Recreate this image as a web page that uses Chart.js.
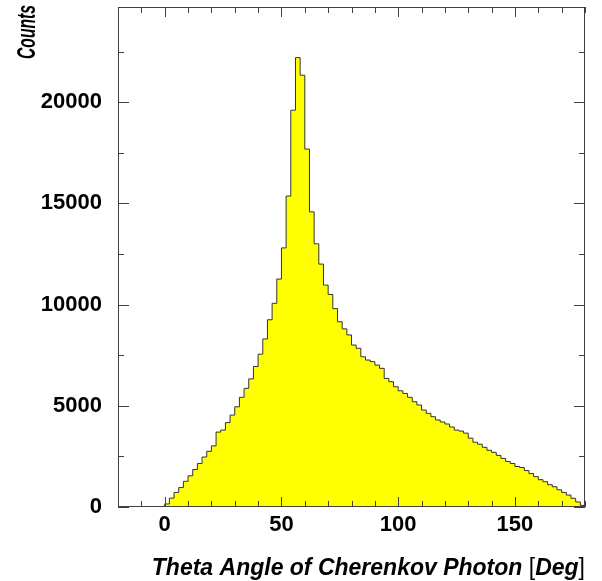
<!DOCTYPE html>
<html>
<head>
<meta charset="utf-8">
<script src="https://cdn.jsdelivr.net/npm/chart.js@4.4.1/dist/chart.umd.min.js"></script>
<style>
    body { margin: 0; background: #fff; }
    canvas { display: block; }
</style>
</head>
<body>
<canvas id="thetaHist" width="602" height="581"></canvas>
<script>
// histogram binning: 100 bins of 2 deg between -20 and 180
const xRange = [-20, 180];
const binWidth = 2;
const yMax = 24700;
const xTicks = [0, 50, 100, 150];
const yTicks = [0, 5000, 10000, 15000, 20000];

// counts per bin, starting at -20 deg
const counts = [
    0, 0, 0, 0, 0, 0, 0, 0, 0, 0,
    150, 440, 720, 960, 1270, 1540, 1850, 2150, 2470, 2750,
    3020, 3700, 3800, 4170, 4540, 4950, 5420, 5860, 6330, 6940,
    7550, 8300, 9250, 10060, 11260, 12800, 15360, 19600, 22200, 21330,
    17680, 14580, 13000, 12000, 10960, 10500, 9800, 9150, 8800, 8500,
    8000, 7840, 7420, 7260, 7180, 7010, 6850, 6350, 6190, 5940,
    5740, 5610, 5420, 5200, 5040, 4790, 4630, 4460, 4300, 4200,
    4100, 3950, 3800, 3750, 3650, 3400, 3200, 3100, 2950, 2800,
    2700, 2550, 2400, 2250, 2150, 2000, 1950, 1800, 1650, 1500,
    1350, 1250, 1100, 1000, 850, 720, 590, 430, 250, 80
];

// one point on the left edge of every bin, plus the closing edge
var points = counts.map(function (c, i) {
    return { x: xRange[0] + i * binWidth, y: c };
});
points.push({ x: xRange[1], y: 0 });

const family = "'Liberation Sans', Arial, sans-serif";
const labelFont = { family: family, size: 22, weight: 'bold' };

// box frame with inward major/minor ticks on all four sides, plus axis titles
const frameTicks = {
    id: 'frameTicks',
    afterDatasetsDraw(chart) {
        const ctx = chart.ctx;
        const a = chart.chartArea;
        const x = chart.scales.x;
        const y = chart.scales.y;
        ctx.save();
        ctx.strokeStyle = '#404040';
        ctx.lineWidth = 1;
        ctx.strokeRect(a.left + 0.5, a.top + 0.5, a.right - a.left - 1, a.bottom - a.top - 1);

        ctx.beginPath();
        for (let v = xRange[0]; v <= xRange[1]; v += 10) {
            const px = Math.round(x.getPixelForValue(v)) + 0.5;
            const len = v % 50 === 0 ? 10 : 6;
            ctx.moveTo(px, a.bottom);
            ctx.lineTo(px, a.bottom - len);
            ctx.moveTo(px, a.top);
            ctx.lineTo(px, a.top + len);
        }
        for (let v = 0; v <= yMax; v += 2500) {
            const py = Math.round(y.getPixelForValue(v)) + 0.5;
            const len = v % 5000 === 0 ? 11 : 6;
            ctx.moveTo(a.left, py);
            ctx.lineTo(a.left + len, py);
            ctx.moveTo(a.right, py);
            ctx.lineTo(a.right - len, py);
        }
        ctx.stroke();

        ctx.fillStyle = '#000';

        // x title, right aligned, with upright brackets around the unit
        const parts = [
            ['Theta Angle of Cherenkov Photon ', 'italic bold 23px ' + family],
            ['[', '23px ' + family],
            ['Deg', 'italic bold 23px ' + family],
            [']', '23px ' + family]
        ];
        let w = 0;
        parts.forEach(function (p) { ctx.font = p[1]; w += ctx.measureText(p[0]).width; });
        let tx = a.right - w;
        ctx.textBaseline = 'alphabetic';
        ctx.textAlign = 'left';
        parts.forEach(function (p) {
            ctx.font = p[1];
            ctx.fillText(p[0], tx, 575);
            tx += ctx.measureText(p[0]).width;
        });

        // y title, rotated and ending at the top of the frame, narrow lettering
        ctx.font = 'italic bold 25px ' + family;
        const cw = ctx.measureText('Counts').width;
        ctx.translate(28, 5);
        ctx.rotate(-Math.PI / 2);
        ctx.scale(54 / cw, 1);
        ctx.textAlign = 'right';
        ctx.textBaseline = 'middle';
        ctx.fillText('Counts', 0, 0);
        ctx.restore();
    }
};

var chart = new Chart(document.getElementById('thetaHist').getContext('2d'), {
    type: 'line',
    data: {
        datasets: [{
            data: points,
            stepped: 'before',
            fill: 'origin',
            backgroundColor: '#ffff00',
            borderColor: '#333333',
            borderWidth: 1,
            pointRadius: 0,
            tension: 0
        }]
    },
    options: {
        responsive: false,
        animation: false,
        layout: { padding: { left: 0, right: 17, top: 7, bottom: 0 } },
        plugins: {
            legend: { display: false },
            tooltip: { enabled: false }
        },
        scales: {
            x: {
                type: 'linear',
                min: xRange[0],
                max: xRange[1],
                afterFit: function (scale) {
                    scale.height = 74;
                    scale.paddingLeft = 0;
                    scale.paddingRight = 0;
                },
                afterBuildTicks: function (scale) {
                    scale.ticks = xTicks.map(function (v) { return { value: v }; });
                },
                grid: { display: false, drawTicks: false },
                border: { display: false },
                ticks: {
                    color: '#000',
                    font: labelFont,
                    padding: 5,
                    maxRotation: 0,
                    callback: function (v) { return String(v); }
                }
            },
            y: {
                min: 0,
                max: yMax,
                afterFit: function (scale) {
                    scale.width = 118;
                    scale.paddingTop = 0;
                    scale.paddingBottom = 0;
                },
                afterBuildTicks: function (scale) {
                    scale.ticks = yTicks.map(function (v) { return { value: v }; });
                },
                grid: { display: false, drawTicks: false },
                border: { display: false },
                ticks: {
                    color: '#000',
                    font: labelFont,
                    padding: 16,
                    callback: function (v) { return String(v); }
                }
            }
        }
    },
    plugins: [frameTicks]
});
</script>
</body>
</html>
